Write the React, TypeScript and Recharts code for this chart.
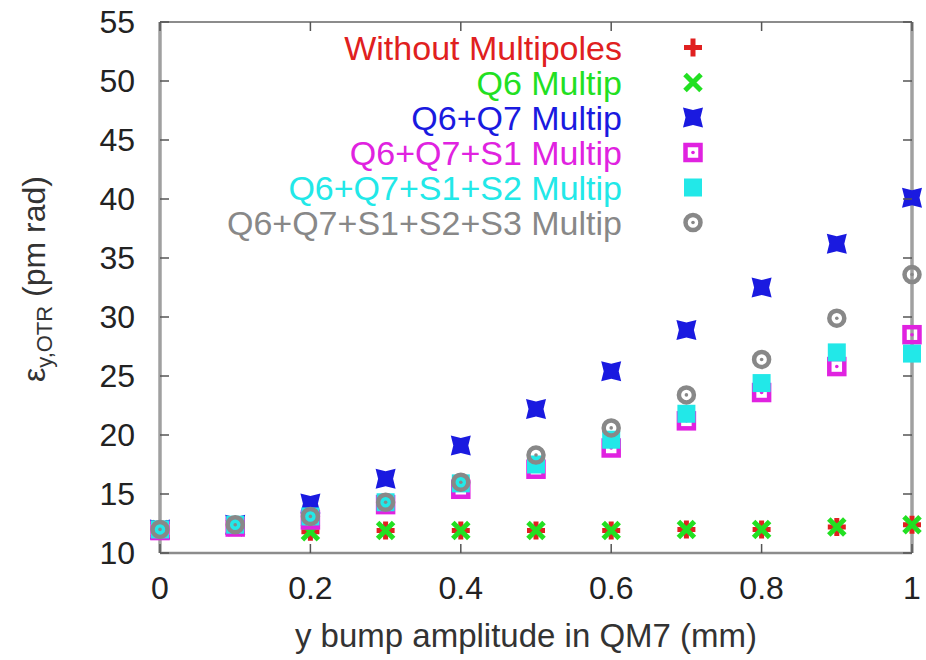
import React from "react";
import {
  ScatterChart,
  Scatter,
  XAxis,
  YAxis,
} from "recharts";

const amplitude = [0, 0.1, 0.2, 0.3, 0.4, 0.5, 0.6, 0.7, 0.8, 0.9, 1.0];
const noMultipoles = [12.0, 12.2, 11.8, 11.9, 11.9, 11.9, 11.9, 12.0, 12.0, 12.2, 12.4];
const q6 = [12.0, 12.2, 11.8, 11.9, 11.9, 11.9, 11.9, 12.0, 12.0, 12.2, 12.4];
const q6q7 = [12.0, 12.4, 14.2, 16.3, 19.1, 22.2, 25.4, 28.9, 32.5, 36.2, 40.1];
const q6q7s1 = [11.9, 12.2, 12.8, 14.1, 15.4, 17.1, 18.9, 21.2, 23.6, 25.8, 28.5];
const q6q7s1s2 = [12.0, 12.4, 13.1, 14.3, 15.9, 17.5, 19.6, 21.8, 24.4, 27.0, 26.9];
const q6q7s1s2s3 = [12.0, 12.4, 13.1, 14.3, 16.0, 18.3, 20.6, 23.4, 26.4, 29.9, 33.6];

const xTicks = [0, 0.2, 0.4, 0.6, 0.8, 1];
const yTicks = [10, 15, 20, 25, 30, 35, 40, 45, 50, 55];

const FONT = "'Liberation Sans', Arial, Helvetica, sans-serif";
const AXIS = "#8c8c8c";
const TICK = "#555";
// plot frame (matches the chart margins + axis sizes below)
const BOX = { left: 160, right: 912, top: 22, bottom: 553 };
const TICK_LEN = 9;

type MarkProps = { cx?: number; cy?: number; color: string };

const Plus = ({ cx = 0, cy = 0, color }: MarkProps) => (
  <path d={`M${cx - 9},${cy}h18M${cx},${cy - 9}v18`} stroke={color} strokeWidth={5} fill="none" />
);

const Cross = ({ cx = 0, cy = 0, color }: MarkProps) => (
  <path
    d={`M${cx - 8},${cy - 8}L${cx + 8},${cy + 8}M${cx + 8},${cy - 8}L${cx - 8},${cy + 8}`}
    stroke={color}
    strokeWidth={5}
    fill="none"
  />
);

const FilledX = ({ cx = 0, cy = 0, color }: MarkProps) => (
  <polygon
    points={`${cx - 10},${cy - 10} ${cx},${cy - 7.5} ${cx + 10},${cy - 10} ${cx + 7.5},${cy} ${cx + 10},${cy + 10} ${cx},${cy + 7.5} ${cx - 10},${cy + 10} ${cx - 7.5},${cy}`}
    fill={color}
  />
);

const OpenSquare = ({ cx = 0, cy = 0, color }: MarkProps) => (
  <g>
    <rect x={cx - 7.5} y={cy - 7.5} width={15} height={15} fill="none" stroke={color} strokeWidth={4.5} />
    <circle cx={cx} cy={cy} r={1.8} fill={color} />
  </g>
);

const FilledSquare = ({ cx = 0, cy = 0, color }: MarkProps) => (
  <rect x={cx - 9} y={cy - 9} width={18} height={18} fill={color} />
);

const Ring = ({ cx = 0, cy = 0, color }: MarkProps) => (
  <g>
    <circle cx={cx} cy={cy} r={7.5} fill="none" stroke={color} strokeWidth={4.5} />
    <circle cx={cx} cy={cy} r={1.8} fill={color} />
  </g>
);

const series = [
  { name: "Without Multipoles", values: noMultipoles, color: "#e02020", Mark: Plus },
  { name: "Q6 Multip", values: q6, color: "#22e022", Mark: Cross },
  { name: "Q6+Q7 Multip", values: q6q7, color: "#1a1ae0", Mark: FilledX },
  { name: "Q6+Q7+S1 Multip", values: q6q7s1, color: "#e022e0", Mark: OpenSquare },
  { name: "Q6+Q7+S1+S2 Multip", values: q6q7s1s2, color: "#22e8e8", Mark: FilledSquare },
  { name: "Q6+Q7+S1+S2+S3 Multip", values: q6q7s1s2s3, color: "#888888", Mark: Ring },
];

// bottom tick: label + inward tick marks on bottom and top of the frame
const XTick = (props: any) => {
  const { x, y, payload } = props;
  return (
    <g>
      <line x1={x} x2={x} y1={BOX.bottom} y2={BOX.bottom - TICK_LEN} stroke={TICK} strokeWidth={1.5} />
      <line x1={x} x2={x} y1={BOX.top} y2={BOX.top + TICK_LEN} stroke={TICK} strokeWidth={1.5} />
      <text x={x} y={y} dy="0.71em" textAnchor="middle" fill="#222" fontSize={32} fontFamily={FONT}>
        {String(payload.value)}
      </text>
    </g>
  );
};

// left tick: label + inward tick marks on left and right of the frame
const YTick = (props: any) => {
  const { x, y, payload } = props;
  return (
    <g>
      <line x1={BOX.left} x2={BOX.left + TICK_LEN} y1={y} y2={y} stroke={TICK} strokeWidth={1.5} />
      <line x1={BOX.right} x2={BOX.right - TICK_LEN} y1={y} y2={y} stroke={TICK} strokeWidth={1.5} />
      <text x={x} y={y} dy="0.355em" textAnchor="end" fill="#222" fontSize={32} fontFamily={FONT}>
        {String(payload.value)}
      </text>
    </g>
  );
};

const YLabel = () => (
  <text transform="rotate(-90)" x={-279} y={45} textAnchor="middle" fontFamily={FONT} fontSize={32} fill="#333">
    ε
    <tspan dy={7} fontSize={22}>y,OTR</tspan>
    <tspan dy={-7}> (pm rad)</tspan>
  </text>
);

export default function App() {
  return (
    <div style={{ position: "absolute", left: 0, top: 0, width: 926, height: 660, background: "#fff" }}>
      <ScatterChart width={926} height={660} margin={{ top: BOX.top, right: 926 - BOX.right, bottom: 0, left: 0 }}>
        <XAxis
          xAxisId="b"
          type="number"
          dataKey="x"
          domain={[0, 1]}
          ticks={xTicks}
          interval={0}
          height={660 - BOX.bottom}
          axisLine={{ stroke: AXIS, strokeWidth: 2.5 }}
          tickLine={false}
          tickSize={0}
          tickMargin={23}
          tick={<XTick />}
          label={{
            value: "y bump amplitude in QM7 (mm)",
            position: "insideBottom",
            offset: 13,
            fill: "#333",
            fontSize: 33,
            fontFamily: FONT,
            dx: -10,
          }}
        />
        <XAxis
          xAxisId="t"
          orientation="top"
          mirror
          type="number"
          dataKey="x"
          domain={[0, 1]}
          height={30}
          axisLine={{ stroke: AXIS, strokeWidth: 2 }}
          tickLine={false}
          tick={false}
        />
        <YAxis
          yAxisId="l"
          type="number"
          dataKey="y"
          domain={[10, 55]}
          ticks={yTicks}
          interval={0}
          width={BOX.left}
          axisLine={{ stroke: "#a0a0a0", strokeWidth: 3.5 }}
          tickLine={false}
          tickSize={0}
          tickMargin={25}
          tick={<YTick />}
          label={<YLabel />}
        />
        <YAxis
          yAxisId="r"
          orientation="right"
          mirror
          type="number"
          dataKey="y"
          domain={[10, 55]}
          width={30}
          axisLine={{ stroke: "#a0a0a0", strokeWidth: 3.5 }}
          tickLine={false}
          tick={false}
        />
        {series.map((s) => (
          <Scatter
            key={s.name}
            name={s.name}
            xAxisId="b"
            yAxisId="l"
            data={amplitude.map((x, i) => ({ x, y: s.values[i] }))}
            isAnimationActive={false}
            shape={(p: any) => <s.Mark cx={p.cx} cy={p.cy} color={s.color} />}
          />
        ))}
      </ScatterChart>
      <svg width={926} height={660} style={{ position: "absolute", left: 0, top: 0, pointerEvents: "none" }}>
        {series.map((s, i) => (
          <g key={s.name}>
            <text
              x={622}
              y={47.5 + i * 35}
              dy="0.36em"
              textAnchor="end"
              fontFamily={FONT}
              fontSize={34}
              fill={s.color}
            >
              {s.name}
            </text>
            <s.Mark cx={693} cy={47.5 + i * 35} color={s.color} />
          </g>
        ))}
      </svg>
    </div>
  );
}
